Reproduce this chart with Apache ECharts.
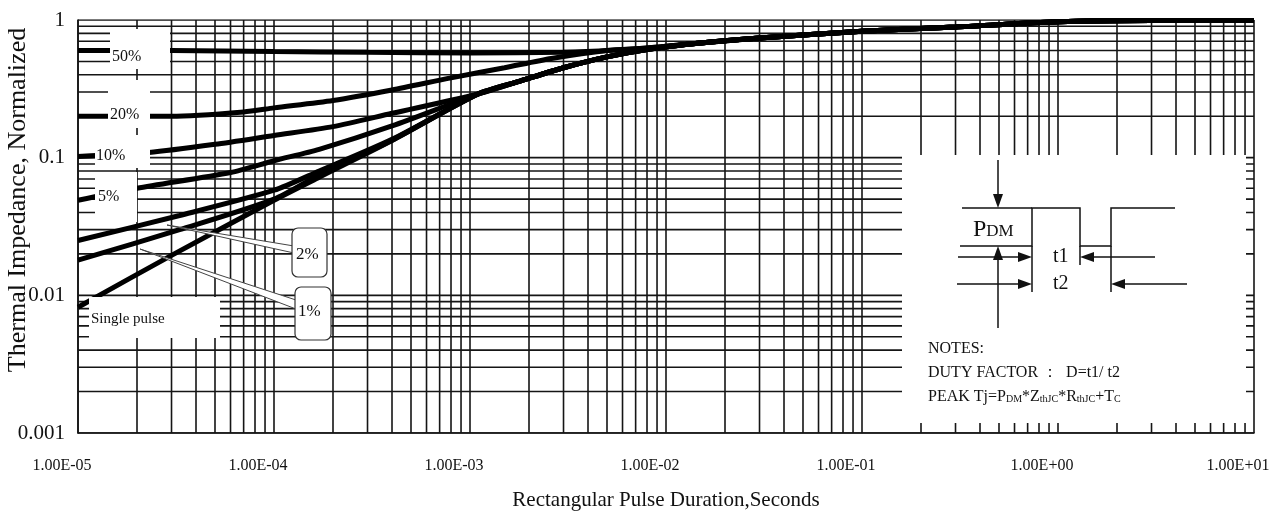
<!DOCTYPE html>
<html>
<head>
<meta charset="utf-8">
<script src="https://cdn.jsdelivr.net/npm/echarts@6/dist/echarts.min.js"></script>
<style>
html,body{margin:0;padding:0;background:#fff;}
#chart{width:1285px;height:518px;}
</style>
</head>
<body>
<div id="chart"></div>
<script>
// ---- Data (t in seconds, normalized thermal impedance) ----
const xTickLabels = ["1.00E-05","1.00E-04","1.00E-03","1.00E-02","1.00E-01","1.00E+00","1.00E+01"];
const yTickLabels = ["0.001","0.01","0.1","1"];
const gridMantissas = [1,2,3,4,5,6,7,8,9];

// common high-duration part (all curves merged)
const commonTail = [[3e-2,0.74],[0.1,0.83],[0.3,0.89],[1,0.97],[3,0.99],[10,0.99]];
// lower curves merged part
const lowerMerged = [[1.1e-3,0.29],[1.8e-3,0.36],[3e-3,0.45],[5e-3,0.54],[8e-3,0.61],[1.5e-2,0.68]];

const d50 = [[1e-5,0.60],[3e-5,0.60],[1e-4,0.59],[3e-4,0.582],[1e-3,0.576],[3e-3,0.582],[5e-3,0.60],[8e-3,0.625],[1.5e-2,0.68]];
const d20 = [[1e-5,0.20],[3e-5,0.20],[7e-5,0.215],[1e-4,0.23],[2e-4,0.26],[4e-4,0.31],[8e-4,0.38],[1.5e-3,0.45],[2.6e-3,0.525],[5e-3,0.60],[8e-3,0.625],[1.5e-2,0.68]];
const d10 = [[1e-5,0.102],[2.3e-5,0.109],[5e-5,0.125],[1e-4,0.145],[2e-4,0.168],[4e-4,0.21]];
const d5  = [[1e-5,0.049],[2e-5,0.060],[6e-5,0.078],[1e-4,0.095],[1.7e-4,0.115],[4e-4,0.17]];
const d2  = [[1e-5,0.025],[3.3e-5,0.038],[1e-4,0.058],[1.7e-4,0.080],[4e-4,0.136]];
const d1  = [[1e-5,0.018],[3.3e-5,0.030],[1e-4,0.050],[1.7e-4,0.075],[4e-4,0.134]];
const dSingle = [[1e-5,0.0082],[3e-5,0.0195],[1e-4,0.049],[1.7e-4,0.072],[4e-4,0.133]];

const FONT = "'Liberation Serif','Times New Roman',serif";
const X_MIN = 1e-5, X_MAX = 10, Y_MIN = 0.001, Y_MAX = 1;

const chart = echarts.init(document.getElementById('chart'), null, {renderer:'canvas'});

function curve(name, data){
  return {
    name, type:'line', data, showSymbol:false, symbol:'none', smooth:0.25,
    clip:false, z:3, silent:true,
    lineStyle:{color:'#000', width:5}
  };
}
function gridLine(data){
  return {type:'line', data, showSymbol:false, symbol:'none', silent:true, z:1,
    lineStyle:{color:'#151515', width:1.6}};
}

// log grid lines (1..9 x 10^k) drawn through the axes' scales
const series = [];
for (let e=-5; e<=1; e++){
  for (const m of gridMantissas){
    const v = m*Math.pow(10,e);
    if (v <= X_MAX*1.0001) series.push(gridLine([[v,Y_MIN],[v,Y_MAX]]));
  }
}
for (let e=-3; e<=0; e++){
  for (const m of gridMantissas){
    const v = m*Math.pow(10,e);
    if (v <= Y_MAX*1.0001) series.push(gridLine([[X_MIN,v],[X_MAX,v]]));
  }
}
series.push(
  curve('50%', d50.concat(commonTail)),
  curve('20%', d20.concat(commonTail)),
  curve('10%', d10.concat(lowerMerged, commonTail)),
  curve('5%', d5.concat(lowerMerged, commonTail)),
  curve('2%', d2.concat(lowerMerged, commonTail)),
  curve('1%', d1.concat(lowerMerged, commonTail)),
  curve('Single pulse', dSingle.concat(lowerMerged, commonTail))
);

function txt(x,y,text,size,extra){
  return Object.assign({type:'text', x, y, z:110, silent:true,
    style:{text, fill:'#111', font: size+'px '+FONT, textVerticalAlign:'middle', textAlign:'left'}}, extra||{});
}
function rect(x,y,w,h,extra){
  return Object.assign({type:'rect', z:100, silent:true, shape:{x,y,width:w,height:h}, style:{fill:'#fff'}}, extra||{});
}
function line(x1,y1,x2,y2){
  return {type:'line', z:110, silent:true, shape:{x1,y1,x2,y2}, style:{stroke:'#111', lineWidth:1.5}};
}
function tri(pts){
  return {type:'polygon', z:110, silent:true, shape:{points:pts}, style:{fill:'#111'}};
}

const graphics = [
  // label boxes
  rect(110,29,60,40), txt(112,57,'50%',16),
  rect(108,80,42,48), txt(110,115,'20%',16),
  rect(95,135,55,33), txt(96,156,'10%',16),
  rect(95,172,42,50), txt(98,197,'5%',16),
  rect(89,297,131,41), txt(91,319,'Single pulse',15),
  // callout leaders
  {type:'polygon', z:105, silent:true, shape:{points:[[167,225],[294,246],[294,253]]}, style:{fill:'#fff', stroke:'#444', lineWidth:1}},
  {type:'polygon', z:105, silent:true, shape:{points:[[140,249],[296,300],[296,309]]}, style:{fill:'#fff', stroke:'#444', lineWidth:1}},
  rect(292,228,35,49,{z:106, shape:{x:292,y:228,width:35,height:49,r:6}, style:{fill:'#fff', stroke:'#333', lineWidth:1.2}}),
  txt(296,255,'2%',17),
  rect(295,287,36,53,{z:106, shape:{x:295,y:287,width:36,height:53,r:6}, style:{fill:'#fff', stroke:'#333', lineWidth:1.2}}),
  txt(298,312,'1%',17),
  // inset
  rect(902,155,344,268),
  line(998,160,998,200), tri([[993,194],[1003,194],[998,208]]),
  line(962,208,1032,208),
  {type:'polyline', z:110, silent:true, shape:{points:[[960,246],[1032,246],[1032,208],[1080,208],[1080,246],[1111,246],[1111,208],[1175,208]]}, style:{stroke:'#111', lineWidth:1.5, fill:null}},
  line(1032,246,1032,292), line(1080,246,1080,265), line(1111,246,1111,292),
  line(998,328,998,254), tri([[993,260],[1003,260],[998,246]]),
  line(958,257,1024,257), tri([[1018,252],[1018,262],[1032,257]]),
  line(1155,257,1088,257), tri([[1094,252],[1094,262],[1080,257]]),
  line(957,284,1024,284), tri([[1018,279],[1018,289],[1032,284]]),
  line(1187,284,1119,284), tri([[1125,279],[1125,289],[1111,284]]),
  {type:'text', x:973, y:230, z:110, silent:true, style:{text:'{a|P}{b|DM}', textVerticalAlign:'middle', rich:{a:{font:'24px '+FONT, fill:'#111'}, b:{font:'17px '+FONT, fill:'#111', padding:[4,0,0,0]}}}},
  txt(1053,257,'t1',20), txt(1053,284,'t2',20),
  txt(928,349,'NOTES:',16),
  txt(928,373,'DUTY FACTOR ：  D=t1/ t2',16),
  {type:'text', x:928, y:397, z:110, silent:true, style:{text:'{n|PEAK Tj=P}{s|DM}{n|*Z}{s|thJC}{n|*R}{s|thJC}{n|+T}{s|C}', textVerticalAlign:'middle', rich:{n:{font:'16px '+FONT, fill:'#111'}, s:{font:'10px '+FONT, fill:'#111', padding:[5,0,0,0]}}}}
];

const option = {
  backgroundColor:'#fff',
  animation:false,
  grid:{left:78, right:31, top:20, bottom:85, show:false, outerBoundsMode:'none', containLabel:false},
  xAxis:{
    type:'log', logBase:10, min:X_MIN, max:X_MAX, interval:1,
    name:'Rectangular Pulse Duration,Seconds', nameLocation:'middle', nameGap:57, nameMoveOverlap:false,
    nameTextStyle:{fontFamily:FONT, fontSize:21, color:'#111'},
    axisLine:{show:true, lineStyle:{color:'#111', width:1.6}},
    axisTick:{show:false},
    splitLine:{show:false},
    axisLabel:{
      fontFamily:FONT, fontSize:16, color:'#111', margin:25, padding:[0,32,0,0],
      showMinLabel:true, showMaxLabel:true,
      formatter:(v)=>xTickLabels[Math.round(Math.log10(v))+5]
    }
  },
  yAxis:{
    type:'log', logBase:10, min:Y_MIN, max:Y_MAX, interval:1,
    name:'Thermal Impedance, Normalized', nameLocation:'middle', nameGap:47, nameRotate:90, nameMoveOverlap:false,
    nameTextStyle:{fontFamily:FONT, fontSize:26, color:'#111', padding:[0,0,0,53]},
    axisLine:{show:true, lineStyle:{color:'#111', width:1.6}},
    axisTick:{show:false},
    splitLine:{show:false},
    axisLabel:{
      fontFamily:FONT, fontSize:21, color:'#111', margin:13,
      showMinLabel:true, showMaxLabel:true,
      formatter:(v)=>yTickLabels[Math.round(Math.log10(v))+3]
    }
  },
  series,
  graphic:{elements:graphics}
};
chart.setOption(option);
</script>
</body>
</html>
